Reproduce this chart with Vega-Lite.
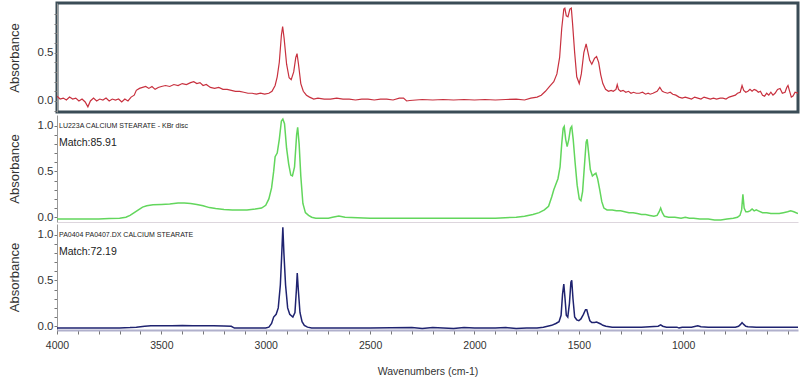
{
  "$schema": "https://vega.github.io/schema/vega-lite/v6.json",
  "background": "white",
  "padding": {"left": 6, "top": 1, "right": 3, "bottom": 5},
  "spacing": 1,
  "config": {
    "view": {"stroke": null},
    "axis": {"grid": false, "labelFont": "Liberation Sans", "labelColor": "#333", "titleColor": "#333", "domainColor": "#999", "tickColor": "#777"}
  },
  "datasets": {
    "red": [
      {"wn":4000,"a":0.05},{"wn":3985,"a":0.02},{"wn":3970,"a":0.03},{"wn":3955,"a":0.01},{"wn":3940,"a":0.04},{"wn":3925,"a":0.02},{"wn":3910,"a":0.03},{"wn":3895,"a":0.0},{"wn":3880,"a":0.02},{"wn":3865,"a":-0.01},{"wn":3852,"a":-0.06},{"wn":3840,"a":0.0},{"wn":3825,"a":0.03},{"wn":3810,"a":0.0},{"wn":3795,"a":0.02},{"wn":3780,"a":0.01},{"wn":3765,"a":0.03},{"wn":3750,"a":0.0},{"wn":3735,"a":0.02},{"wn":3720,"a":0.01},{"wn":3705,"a":0.02},{"wn":3690,"a":-0.01},{"wn":3675,"a":0.02},{"wn":3660,"a":0.0},{"wn":3645,"a":0.04},{"wn":3630,"a":0.06},{"wn":3620,"a":0.11},{"wn":3605,"a":0.13},{"wn":3590,"a":0.14},{"wn":3575,"a":0.15},{"wn":3560,"a":0.13},{"wn":3545,"a":0.15},{"wn":3530,"a":0.12},{"wn":3515,"a":0.14},{"wn":3500,"a":0.15},{"wn":3480,"a":0.16},{"wn":3460,"a":0.15},{"wn":3440,"a":0.17},{"wn":3420,"a":0.16},{"wn":3400,"a":0.18},{"wn":3380,"a":0.17},{"wn":3360,"a":0.19},{"wn":3345,"a":0.2},{"wn":3330,"a":0.18},{"wn":3315,"a":0.19},{"wn":3300,"a":0.16},{"wn":3285,"a":0.17},{"wn":3265,"a":0.14},{"wn":3245,"a":0.13},{"wn":3225,"a":0.14},{"wn":3205,"a":0.12},{"wn":3185,"a":0.12},{"wn":3165,"a":0.11},{"wn":3145,"a":0.1},{"wn":3125,"a":0.1},{"wn":3105,"a":0.09},{"wn":3085,"a":0.08},{"wn":3065,"a":0.08},{"wn":3045,"a":0.07},{"wn":3025,"a":0.08},{"wn":3005,"a":0.07},{"wn":2985,"a":0.08},{"wn":2970,"a":0.1},{"wn":2955,"a":0.16},{"wn":2945,"a":0.25},{"wn":2935,"a":0.4},{"wn":2925,"a":0.68},{"wn":2919,"a":0.77},{"wn":2912,"a":0.65},{"wn":2900,"a":0.38},{"wn":2888,"a":0.24},{"wn":2878,"a":0.22},{"wn":2866,"a":0.3},{"wn":2856,"a":0.45},{"wn":2850,"a":0.49},{"wn":2843,"a":0.38},{"wn":2832,"a":0.18},{"wn":2820,"a":0.1},{"wn":2805,"a":0.06},{"wn":2790,"a":0.04},{"wn":2770,"a":0.02},{"wn":2750,"a":0.03},{"wn":2720,"a":0.02},{"wn":2690,"a":0.02},{"wn":2660,"a":0.03},{"wn":2630,"a":0.02},{"wn":2600,"a":0.02},{"wn":2570,"a":0.01},{"wn":2540,"a":0.02},{"wn":2510,"a":0.02},{"wn":2480,"a":0.01},{"wn":2450,"a":0.02},{"wn":2420,"a":0.02},{"wn":2390,"a":0.01},{"wn":2360,"a":0.03},{"wn":2340,"a":0.03},{"wn":2325,"a":0.0},{"wn":2310,"a":0.005},{"wn":2280,"a":0.01},{"wn":2250,"a":0.015},{"wn":2200,"a":0.01},{"wn":2150,"a":0.015},{"wn":2100,"a":0.01},{"wn":2050,"a":0.015},{"wn":2000,"a":0.01},{"wn":1950,"a":0.015},{"wn":1900,"a":0.01},{"wn":1850,"a":0.015},{"wn":1800,"a":0.02},{"wn":1760,"a":0.01},{"wn":1730,"a":0.03},{"wn":1700,"a":0.04},{"wn":1680,"a":0.06},{"wn":1660,"a":0.1},{"wn":1640,"a":0.15},{"wn":1620,"a":0.2},{"wn":1605,"a":0.28},{"wn":1592,"a":0.45},{"wn":1582,"a":0.75},{"wn":1572,"a":0.95},{"wn":1567,"a":0.96},{"wn":1560,"a":0.88},{"wn":1552,"a":0.87},{"wn":1543,"a":0.95},{"wn":1536,"a":0.96},{"wn":1530,"a":0.8},{"wn":1520,"a":0.5},{"wn":1510,"a":0.25},{"wn":1498,"a":0.18},{"wn":1488,"a":0.28},{"wn":1476,"a":0.5},{"wn":1465,"a":0.59},{"wn":1458,"a":0.52},{"wn":1448,"a":0.42},{"wn":1438,"a":0.38},{"wn":1425,"a":0.44},{"wn":1415,"a":0.46},{"wn":1405,"a":0.4},{"wn":1395,"a":0.27},{"wn":1385,"a":0.18},{"wn":1372,"a":0.12},{"wn":1358,"a":0.1},{"wn":1345,"a":0.11},{"wn":1335,"a":0.1},{"wn":1322,"a":0.12},{"wn":1316,"a":0.17},{"wn":1310,"a":0.12},{"wn":1300,"a":0.1},{"wn":1288,"a":0.11},{"wn":1275,"a":0.09},{"wn":1262,"a":0.1},{"wn":1250,"a":0.08},{"wn":1238,"a":0.09},{"wn":1225,"a":0.08},{"wn":1210,"a":0.08},{"wn":1195,"a":0.09},{"wn":1180,"a":0.07},{"wn":1168,"a":0.08},{"wn":1158,"a":0.07},{"wn":1145,"a":0.08},{"wn":1125,"a":0.1},{"wn":1112,"a":0.14},{"wn":1100,"a":0.1},{"wn":1090,"a":0.09},{"wn":1075,"a":0.08},{"wn":1062,"a":0.09},{"wn":1050,"a":0.07},{"wn":1035,"a":0.06},{"wn":1020,"a":0.04},{"wn":1005,"a":0.03},{"wn":990,"a":0.04},{"wn":975,"a":0.03},{"wn":960,"a":0.02},{"wn":945,"a":0.04},{"wn":930,"a":0.03},{"wn":915,"a":0.02},{"wn":900,"a":0.04},{"wn":885,"a":0.03},{"wn":870,"a":0.02},{"wn":855,"a":0.03},{"wn":840,"a":0.02},{"wn":823,"a":0.03},{"wn":810,"a":0.03},{"wn":795,"a":0.02},{"wn":780,"a":0.04},{"wn":765,"a":0.05},{"wn":750,"a":0.06},{"wn":740,"a":0.08},{"wn":727,"a":0.09},{"wn":718,"a":0.16},{"wn":710,"a":0.11},{"wn":700,"a":0.09},{"wn":690,"a":0.1},{"wn":680,"a":0.12},{"wn":670,"a":0.1},{"wn":660,"a":0.12},{"wn":650,"a":0.11},{"wn":640,"a":0.09},{"wn":630,"a":0.1},{"wn":620,"a":0.06},{"wn":610,"a":0.05},{"wn":600,"a":0.08},{"wn":590,"a":0.06},{"wn":580,"a":0.09},{"wn":570,"a":0.06},{"wn":560,"a":0.08},{"wn":548,"a":0.12},{"wn":536,"a":0.13},{"wn":525,"a":0.08},{"wn":512,"a":0.09},{"wn":504,"a":0.14},{"wn":498,"a":0.16},{"wn":490,"a":0.1},{"wn":482,"a":0.04},{"wn":474,"a":0.05},{"wn":464,"a":0.09},{"wn":450,"a":0.08}
    ],
    "green": [
      {"wn":4000,"a":-0.02},{"wn":3900,"a":-0.02},{"wn":3800,"a":-0.02},{"wn":3750,"a":-0.015},{"wn":3700,"a":-0.01},{"wn":3670,"a":0.0},{"wn":3650,"a":0.02},{"wn":3630,"a":0.05},{"wn":3610,"a":0.08},{"wn":3590,"a":0.11},{"wn":3570,"a":0.125},{"wn":3540,"a":0.135},{"wn":3500,"a":0.14},{"wn":3460,"a":0.145},{"wn":3420,"a":0.155},{"wn":3390,"a":0.155},{"wn":3360,"a":0.15},{"wn":3330,"a":0.14},{"wn":3300,"a":0.125},{"wn":3270,"a":0.105},{"wn":3240,"a":0.095},{"wn":3200,"a":0.085},{"wn":3160,"a":0.08},{"wn":3120,"a":0.078},{"wn":3090,"a":0.08},{"wn":3070,"a":0.085},{"wn":3050,"a":0.09},{"wn":3020,"a":0.1},{"wn":3000,"a":0.13},{"wn":2985,"a":0.2},{"wn":2972,"a":0.32},{"wn":2962,"a":0.5},{"wn":2955,"a":0.66},{"wn":2945,"a":0.7},{"wn":2935,"a":0.85},{"wn":2925,"a":1.05},{"wn":2918,"a":1.07},{"wn":2910,"a":1.02},{"wn":2900,"a":0.75},{"wn":2890,"a":0.58},{"wn":2880,"a":0.46},{"wn":2872,"a":0.45},{"wn":2862,"a":0.55},{"wn":2852,"a":0.9},{"wn":2847,"a":0.98},{"wn":2840,"a":0.8},{"wn":2832,"a":0.45},{"wn":2822,"a":0.15},{"wn":2810,"a":0.05},{"wn":2795,"a":0.02},{"wn":2780,"a":0.0},{"wn":2760,"a":-0.01},{"wn":2700,"a":-0.01},{"wn":2680,"a":0.0},{"wn":2650,"a":0.012},{"wn":2620,"a":0.0},{"wn":2500,"a":-0.01},{"wn":2300,"a":-0.01},{"wn":2100,"a":-0.012},{"wn":1900,"a":-0.01},{"wn":1800,"a":0.0},{"wn":1760,"a":0.01},{"wn":1720,"a":0.03},{"wn":1690,"a":0.05},{"wn":1665,"a":0.08},{"wn":1645,"a":0.12},{"wn":1630,"a":0.22},{"wn":1620,"a":0.3},{"wn":1610,"a":0.36},{"wn":1600,"a":0.42},{"wn":1590,"a":0.55},{"wn":1582,"a":0.8},{"wn":1575,"a":0.97},{"wn":1570,"a":0.99},{"wn":1563,"a":0.85},{"wn":1556,"a":0.77},{"wn":1548,"a":0.85},{"wn":1540,"a":0.97},{"wn":1534,"a":0.99},{"wn":1527,"a":0.85},{"wn":1518,"a":0.6},{"wn":1508,"a":0.35},{"wn":1498,"a":0.2},{"wn":1490,"a":0.18},{"wn":1482,"a":0.28},{"wn":1472,"a":0.6},{"wn":1465,"a":0.82},{"wn":1460,"a":0.85},{"wn":1453,"a":0.7},{"wn":1445,"a":0.52},{"wn":1435,"a":0.45},{"wn":1425,"a":0.47},{"wn":1418,"a":0.48},{"wn":1410,"a":0.42},{"wn":1400,"a":0.3},{"wn":1390,"a":0.17},{"wn":1380,"a":0.1},{"wn":1365,"a":0.08},{"wn":1340,"a":0.08},{"wn":1320,"a":0.07},{"wn":1300,"a":0.07},{"wn":1280,"a":0.06},{"wn":1260,"a":0.05},{"wn":1240,"a":0.05},{"wn":1220,"a":0.04},{"wn":1200,"a":0.03},{"wn":1180,"a":0.03},{"wn":1160,"a":0.02},{"wn":1140,"a":0.01},{"wn":1125,"a":0.02},{"wn":1115,"a":0.06},{"wn":1108,"a":0.1},{"wn":1100,"a":0.05},{"wn":1090,"a":0.01},{"wn":1070,"a":0.0},{"wn":1040,"a":0.0},{"wn":1010,"a":-0.01},{"wn":990,"a":0.0},{"wn":970,"a":-0.01},{"wn":950,"a":-0.01},{"wn":920,"a":-0.02},{"wn":880,"a":-0.02},{"wn":850,"a":-0.03},{"wn":820,"a":-0.03},{"wn":790,"a":-0.02},{"wn":760,"a":-0.01},{"wn":740,"a":0.0},{"wn":728,"a":0.02},{"wn":720,"a":0.08},{"wn":714,"a":0.25},{"wn":708,"a":0.1},{"wn":700,"a":0.06},{"wn":690,"a":0.06},{"wn":680,"a":0.07},{"wn":670,"a":0.09},{"wn":660,"a":0.07},{"wn":650,"a":0.08},{"wn":640,"a":0.07},{"wn":620,"a":0.05},{"wn":600,"a":0.05},{"wn":580,"a":0.04},{"wn":560,"a":0.04},{"wn":540,"a":0.04},{"wn":520,"a":0.05},{"wn":500,"a":0.06},{"wn":485,"a":0.07},{"wn":470,"a":0.06},{"wn":450,"a":0.04}
    ],
    "blue": [
      {"wn":4000,"a":-0.02},{"wn":3900,"a":-0.02},{"wn":3800,"a":-0.02},{"wn":3700,"a":-0.02},{"wn":3650,"a":-0.015},{"wn":3620,"a":-0.01},{"wn":3580,"a":0.0},{"wn":3550,"a":0.005},{"wn":3500,"a":0.005},{"wn":3450,"a":0.005},{"wn":3400,"a":0.007},{"wn":3350,"a":0.005},{"wn":3300,"a":0.005},{"wn":3250,"a":0.004},{"wn":3200,"a":0.003},{"wn":3165,"a":0.0},{"wn":3150,"a":-0.02},{"wn":3050,"a":-0.02},{"wn":3000,"a":-0.02},{"wn":2985,"a":-0.01},{"wn":2972,"a":0.03},{"wn":2962,"a":0.1},{"wn":2950,"a":0.13},{"wn":2940,"a":0.2},{"wn":2930,"a":0.45},{"wn":2924,"a":0.75},{"wn":2918,"a":1.08},{"wn":2913,"a":0.8},{"wn":2905,"a":0.45},{"wn":2895,"a":0.2},{"wn":2885,"a":0.13},{"wn":2870,"a":0.1},{"wn":2860,"a":0.15},{"wn":2853,"a":0.4},{"wn":2849,"a":0.58},{"wn":2844,"a":0.4},{"wn":2836,"a":0.15},{"wn":2826,"a":0.05},{"wn":2815,"a":0.01},{"wn":2800,"a":-0.01},{"wn":2780,"a":-0.02},{"wn":2500,"a":-0.02},{"wn":2300,"a":-0.015},{"wn":2250,"a":-0.025},{"wn":2200,"a":-0.015},{"wn":2150,"a":-0.02},{"wn":2100,"a":-0.025},{"wn":2050,"a":-0.015},{"wn":2000,"a":-0.02},{"wn":1900,"a":-0.02},{"wn":1850,"a":-0.015},{"wn":1800,"a":-0.025},{"wn":1750,"a":-0.02},{"wn":1700,"a":-0.02},{"wn":1670,"a":-0.01},{"wn":1650,"a":0.0},{"wn":1630,"a":0.01},{"wn":1610,"a":0.03},{"wn":1595,"a":0.05},{"wn":1585,"a":0.12},{"wn":1578,"a":0.35},{"wn":1572,"a":0.46},{"wn":1566,"a":0.3},{"wn":1560,"a":0.12},{"wn":1553,"a":0.1},{"wn":1545,"a":0.25},{"wn":1538,"a":0.48},{"wn":1534,"a":0.5},{"wn":1528,"a":0.3},{"wn":1520,"a":0.1},{"wn":1510,"a":0.07},{"wn":1500,"a":0.06},{"wn":1490,"a":0.08},{"wn":1478,"a":0.13},{"wn":1468,"a":0.18},{"wn":1462,"a":0.18},{"wn":1455,"a":0.12},{"wn":1447,"a":0.06},{"wn":1438,"a":0.04},{"wn":1425,"a":0.04},{"wn":1415,"a":0.045},{"wn":1405,"a":0.035},{"wn":1395,"a":0.025},{"wn":1385,"a":0.01},{"wn":1370,"a":0.0},{"wn":1340,"a":-0.01},{"wn":1300,"a":-0.01},{"wn":1200,"a":-0.01},{"wn":1120,"a":0.0},{"wn":1108,"a":0.015},{"wn":1098,"a":0.0},{"wn":1080,"a":-0.01},{"wn":1030,"a":-0.01},{"wn":1020,"a":-0.02},{"wn":1005,"a":-0.01},{"wn":960,"a":-0.01},{"wn":940,"a":0.0},{"wn":930,"a":0.005},{"wn":915,"a":-0.005},{"wn":880,"a":-0.01},{"wn":800,"a":-0.01},{"wn":750,"a":-0.01},{"wn":735,"a":0.0},{"wn":725,"a":0.02},{"wn":718,"a":0.04},{"wn":710,"a":0.02},{"wn":700,"a":0.0},{"wn":690,"a":-0.005},{"wn":650,"a":-0.01},{"wn":600,"a":-0.01},{"wn":500,"a":-0.01},{"wn":450,"a":-0.01}
    ]
  },
  "vconcat": [
    {
      "width": 741,
      "height": 109,
      "view": {"stroke": "#3a4c56", "strokeWidth": 3},
      "data": {"name": "red"},
      "mark": {"type": "line", "color": "#c8313f", "strokeWidth": 1.2, "clip": true},
      "encoding": {
        "x": {"field": "wn", "type": "quantitative", "scale": {"domain": [450, 4000], "reverse": true, "nice": false, "zero": false}, "axis": null},
        "y": {"field": "a", "type": "quantitative", "scale": {"domain": [-0.114, 1.013], "nice": false, "zero": false},
          "axis": {"title": "Absorbance", "titleFont": "Liberation Sans", "titleFontSize": 13, "titleFontWeight": "normal", "titlePadding": 16,
            "values": [-0.1, 0, 0.1, 0.2, 0.3, 0.4, 0.5, 0.6, 0.7, 0.8, 0.9],
            "labelExpr": "abs(datum.value*2 - round(datum.value*2)) < 0.001 ? format(datum.value, '.1f') : ''",
            "labelFontSize": 11.5, "labelPadding": 1, "tickSize": 3}}
      }
    },
    {
      "width": 741,
      "height": 107,
      "title": {"text": "LU223A CALCIUM STEARATE  -  KBr disc", "subtitle": " Match:85.91", "anchor": "start", "frame": "group", "orient": "top", "offset": -33.5, "dx": 2,
        "font": "Liberation Sans", "fontSize": 7, "fontWeight": "normal", "color": "#222",
        "subtitleFont": "Liberation Sans", "subtitleFontSize": 10.5, "subtitleColor": "#222", "subtitlePadding": 9.25},
      "data": {"name": "green"},
      "mark": {"type": "line", "color": "#62d65c", "strokeWidth": 1.5, "clip": true},
      "encoding": {
        "x": {"field": "wn", "type": "quantitative", "scale": {"domain": [450, 4000], "reverse": true, "nice": false, "zero": false},
          "axis": {"title": null, "labels": false, "ticks": false, "domain": true, "domainColor": "#ddd6dd"}},
        "y": {"field": "a", "type": "quantitative", "scale": {"domain": [-0.052, 1.115], "nice": false, "zero": false},
          "axis": {"title": "Absorbance", "titleFont": "Liberation Sans", "titleFontSize": 13, "titleFontWeight": "normal", "titlePadding": 16,
            "values": [0, 0.1, 0.2, 0.3, 0.4, 0.5, 0.6, 0.7, 0.8, 0.9, 1.0],
            "labelExpr": "abs(datum.value*2 - round(datum.value*2)) < 0.001 ? format(datum.value, '.1f') : ''",
            "labelFontSize": 11.5, "labelPadding": 1, "tickSize": 3}}
      }
    },
    {
      "width": 741,
      "height": 106,
      "title": {"text": "PA0404 PA0407.DX  CALCIUM STEARATE", "subtitle": " Match:72.19", "anchor": "start", "frame": "group", "orient": "top", "offset": -33.5, "dx": 2,
        "font": "Liberation Sans", "fontSize": 7, "fontWeight": "normal", "color": "#222",
        "subtitleFont": "Liberation Sans", "subtitleFontSize": 10.5, "subtitleColor": "#222", "subtitlePadding": 9.25},
      "data": {"name": "blue"},
      "mark": {"type": "line", "color": "#1f2370", "strokeWidth": 1.5, "clip": true},
      "encoding": {
        "x": {"field": "wn", "type": "quantitative", "scale": {"domain": [450, 4000], "reverse": true, "nice": false, "zero": false},
          "axis": {"title": "Wavenumbers (cm-1)", "titleFont": "Liberation Sans", "titleFontSize": 10.5, "titleFontWeight": "normal", "titlePadding": 16,
            "values": [500, 600, 700, 800, 900, 1000, 1100, 1200, 1300, 1400, 1500, 1600, 1700, 1800, 1900, 2000, 2100, 2200, 2300, 2400, 2500, 2600, 2700, 2800, 2900, 3000, 3100, 3200, 3300, 3400, 3500, 3600, 3700, 3800, 3900, 4000],
            "labelExpr": "datum.value % 500 == 0 && datum.value >= 1000 ? datum.value : ''",
            "labelFlush": false,
            "labelFontSize": 10.5, "labelPadding": 6, "tickSize": 4, "domainColor": "#b0b0cc", "domainWidth": 2}},
        "y": {"field": "a", "type": "quantitative", "scale": {"domain": [-0.041, 1.115], "nice": false, "zero": false},
          "axis": {"title": "Absorbance", "titleFont": "Liberation Sans", "titleFontSize": 13, "titleFontWeight": "normal", "titlePadding": 16,
            "values": [0, 0.1, 0.2, 0.3, 0.4, 0.5, 0.6, 0.7, 0.8, 0.9, 1.0],
            "labelExpr": "abs(datum.value*2 - round(datum.value*2)) < 0.001 ? format(datum.value, '.1f') : ''",
            "labelFontSize": 11.5, "labelPadding": 1, "tickSize": 3}}
      }
    }
  ]
}
